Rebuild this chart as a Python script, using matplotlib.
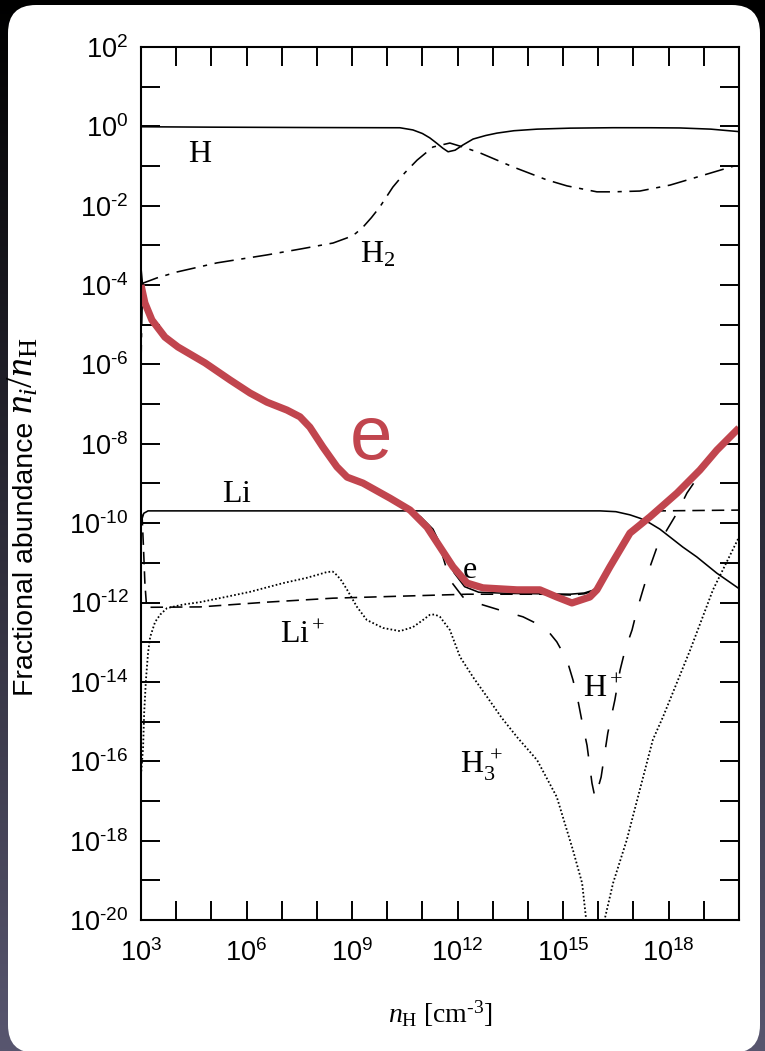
import numpy as np
import matplotlib
matplotlib.use("Agg")
import matplotlib.pyplot as plt
from matplotlib.patches import FancyBboxPatch
from matplotlib.ticker import FixedLocator, FixedFormatter

# ---------------------------------------------------------------
# Chemical abundances vs. density, log10(n_H [cm^-3]) / log10(n_i/n_H)
# ---------------------------------------------------------------
h_logn = [3.0, 5.0, 8.0, 9.79, 10.36, 10.73, 11.0, 11.21, 11.4, 11.58, 11.73,
          11.93, 12.15, 12.44, 12.8, 13.12, 13.6, 14.26, 15.2, 16.42, 17.5,
          18.32, 19.2, 19.97, 20.0]
h_logx = [-0.01, -0.02, -0.03, -0.034, -0.035, -0.09, -0.18, -0.29, -0.42,
          -0.55, -0.64, -0.60, -0.47, -0.32, -0.23, -0.17, -0.11, -0.07,
          -0.045, -0.034, -0.035, -0.04, -0.07, -0.13, -0.135]

h2_logn = [3.0, 3.02, 3.04, 3.06, 3.45, 4.02, 5.16, 6.58, 7.6, 8.46, 8.86,
           9.1, 9.31, 9.55, 9.79, 10.16, 10.5, 10.85, 11.3, 11.78, 12.15,
           12.64, 13.57, 14.54, 15.11, 15.96, 16.42, 17.18, 18.04, 18.8,
           19.97, 20.0]
h2_logx = [-6.0, -5.0, -4.3, -3.95, -3.82, -3.67, -3.44, -3.24, -3.08, -2.94,
           -2.81, -2.7, -2.54, -2.3, -2.03, -1.53, -1.17, -0.85, -0.52, -0.42,
           -0.52, -0.67, -1.02, -1.35, -1.50, -1.65, -1.65, -1.63, -1.48,
           -1.28, -0.97, -0.96]

li_logn = [3.0, 3.08, 3.2, 16.05, 16.5, 16.9, 17.2, 17.47, 17.75, 18.04,
           18.4, 18.8, 19.37, 19.97, 20.0]
li_logx = [-9.97, -9.75, -9.69, -9.69, -9.71, -9.79, -9.88, -10.0, -10.15,
           -10.35, -10.6, -10.85, -11.26, -11.63, -11.65]

lip_logn = [3.0, 3.03, 3.07, 3.11, 3.15, 3.2, 4.68, 6.58, 8.46, 10.36, 12.27,
            14.34, 15.2, 15.6, 15.96, 16.33, 16.9, 17.2, 17.47, 17.75, 20.0]
lip_logx = [-9.75, -9.8, -10.6, -11.5, -12.0, -12.12, -12.11, -11.99, -11.89,
            -11.84, -11.79, -11.79, -11.81, -11.78, -11.68, -11.10, -10.3,
            -9.95, -9.79, -9.69, -9.67]

hp_logn = [3.0, 3.11, 3.31, 3.68, 4.05, 4.82, 5.53, 6.10, 6.58, 7.15, 7.52,
           7.80, 8.17, 8.57, 8.86, 9.31, 10.08, 10.65, 11.13, 11.5, 11.78,
           12.15, 12.45, 12.72, 13.2, 13.86, 14.34, 14.6, 14.82, 15.11, 15.28,
           15.42, 15.54, 15.68, 15.82, 15.91, 16.08, 16.27, 16.47, 16.62,
           16.76, 16.96, 17.10, 17.27, 17.47, 17.67, 17.95, 18.24, 18.52,
           18.89, 19.37, 20.0]
hp_logx = [-4.00, -4.45, -4.88, -5.31, -5.56, -5.96, -6.39, -6.72, -6.95,
           -7.15, -7.32, -7.58, -8.08, -8.58, -8.84, -8.99, -9.37, -9.67,
           -10.10, -10.60, -11.43, -11.86, -11.98, -12.06, -12.19, -12.36,
           -12.57, -12.75, -12.99, -13.45, -13.95, -14.46, -15.01, -15.6,
           -16.55, -16.93, -16.40, -15.29, -14.46, -13.70, -13.20, -12.69,
           -12.19, -11.68, -11.10, -10.60, -10.17, -9.74, -9.24, -8.76,
           -8.21, -7.65]

h3p_logn = [3.0, 3.06, 3.09, 3.14, 3.2, 3.26, 3.4, 3.55, 3.74, 4.2, 4.68, 5.4,
            6.1, 7.04, 7.7, 8.1, 8.29, 8.45, 8.57, 8.7, 8.86, 9.14, 9.42,
            9.88, 10.36, 10.73, 11.0, 11.21, 11.35, 11.5, 11.78, 12.07, 12.44,
            12.84, 13.25, 13.69, 14.26, 14.82, 15.28, 15.54, 15.65, 15.72,
            16.12, 16.19, 16.42, 16.81, 17.18, 17.55, 17.84, 18.61, 19.26,
            20.0]
h3p_logx = [-16.35, -15.64, -14.78, -13.95, -13.27, -12.87, -12.49, -12.3,
            -12.14, -12.05, -11.99, -11.86, -11.73, -11.51, -11.38, -11.28,
            -11.23, -11.22, -11.31, -11.45, -11.68, -12.11, -12.44, -12.64,
            -12.72, -12.62, -12.45, -12.31, -12.30, -12.36, -12.69, -13.37,
            -13.88, -14.38, -14.9, -15.39, -15.97, -16.90, -18.24, -19.07,
            -19.95, -21.0, -21.0, -19.95, -19.07, -17.98, -16.72, -15.46,
            -14.88, -13.20, -11.68, -10.35]

# electrons: thin model curve and the highlighted one on top
et_logn = [3.0, 3.04, 3.08, 3.31, 3.68, 4.05, 4.82, 5.53, 6.10, 6.58, 7.15,
           7.52, 7.80, 8.17, 8.57, 8.86, 9.31, 10.08, 10.65, 10.95, 11.3,
           11.6, 11.9, 12.2, 12.6, 13.5, 14.5, 15.2, 15.6, 15.96, 16.33, 16.9,
           17.47, 18.24, 18.89, 19.37, 20.0]
et_logx = [-3.57, -3.95, -4.35, -4.88, -5.31, -5.56, -5.96, -6.39, -6.72,
           -6.95, -7.15, -7.32, -7.58, -8.08, -8.58, -8.84, -8.99, -9.37,
           -9.67, -9.84, -10.15, -10.7, -11.25, -11.6, -11.74, -11.77, -11.78,
           -11.79, -11.76, -11.66, -11.10, -10.25, -9.84, -9.24, -8.66, -8.16,
           -7.60]

e_logn = [3.0, 3.11, 3.31, 3.68, 4.05, 4.82, 5.53, 6.10, 6.58, 7.15, 7.52,
          7.80, 8.17, 8.57, 8.86, 9.31, 10.08, 10.65, 11.13, 11.5, 11.87,
          12.27, 12.72, 13.69, 14.34, 14.82, 15.25, 15.76, 15.96, 16.33, 16.9,
          17.47, 18.24, 18.89, 19.37, 20.0]
e_logx = [-4.00, -4.45, -4.88, -5.31, -5.56, -5.96, -6.39, -6.72, -6.95,
          -7.15, -7.32, -7.58, -8.08, -8.58, -8.84, -8.99, -9.37, -9.67,
          -10.10, -10.60, -11.10, -11.51, -11.63, -11.68, -11.68, -11.86,
          -12.01, -11.86, -11.68, -11.10, -10.25, -9.84, -9.24, -8.66, -8.16,
          -7.60]

x_decades = list(range(3, 21))
x_labelled = [3, 6, 9, 12, 15, 18]
y_decades = list(range(2, -21, -1))
y_labelled = [2, 0, -2, -4, -6, -8, -10, -12, -14, -16, -18, -20]

# species labels: (text, log n, log abundance)
species_labels = [
    (r"$\mathrm{H}$", 4.34, -0.90),
    (r"$\mathrm{H_2}$", 9.23, -3.44),
    (r"$\mathrm{Li}$", 5.30, -9.47),
    (r"$\mathrm{Li^+}$", 6.95, -13.02),
    (r"$\mathrm{e}$", 12.12, -11.38),
    (r"$\mathrm{H^+}$", 15.56, -14.38),
    (r"$\mathrm{H_3^{\,+}}$", 12.07, -16.30),
]
highlight_label = ("e", 8.94, -8.38)

RED = "#c1454e"
HYPHEN = "\u2010"

plt.rcParams["mathtext.fontset"] = "custom"
plt.rcParams["mathtext.rm"] = "Liberation Serif"
plt.rcParams["mathtext.it"] = "Liberation Serif:italic"
plt.rcParams["mathtext.sf"] = "Liberation Sans"
plt.rcParams["mathtext.bf"] = "Liberation Serif:bold"
plt.rcParams["font.family"] = ["Liberation Sans", "DejaVu Sans"]
plt.rcParams["lines.scale_dashes"] = False

W, H = 765, 1051
fig = plt.figure(figsize=(W / 100, H / 100), dpi=100)

# backdrop: dark gradient with a white rounded card
bg = fig.add_axes([0, 0, 1, 1], zorder=-10)
top = np.array([0.0, 0.0, 0.0])
bot = np.array([0x58, 0x56, 0x6f]) / 255.0
t = np.linspace(0, 1, 256)[:, None]
grad = (top + (bot - top) * t)[:, None, :].repeat(2, axis=1)
bg.imshow(grad, aspect="auto", extent=(0, W, H, 0), interpolation="bilinear")
bg.add_patch(FancyBboxPatch((8, 5), 752, 1048,
                            boxstyle="round,pad=0,rounding_size=28",
                            fc="white", ec="none"))
bg.set_xlim(0, W)
bg.set_ylim(H, 0)
bg.axis("off")

L, R, T, B = 141, 739, 47, 920
ax = fig.add_axes([L / W, 1 - B / H, (R - L) / W, (B - T) / H])
ax.set_xscale("log")
ax.set_yscale("log")
ax.set_xlim(1e3, 1e20)
ax.set_ylim(1e-20, 1e2)


def pw(a):
    return 10.0 ** np.asarray(a, dtype=float)


thin = 1.15
ax.plot(pw(h_logn), pw(h_logx), color="black", lw=thin)
ax.plot(pw(li_logn), pw(li_logx), color="black", lw=thin)
ax.plot(pw(h2_logn), pw(h2_logx), color="black", lw=thin,
        dashes=(14, 5.5, 3, 5.5))
ax.plot(pw(lip_logn), pw(lip_logx), color="black", lw=thin, dashes=(9, 5))
ax.plot(pw(hp_logn), pw(hp_logx), color="black", lw=thin, dashes=(13, 14))
ax.plot(pw(h3p_logn), pw(h3p_logx), color="black", lw=1.3, dashes=(1.2, 1.6))
ax.plot(pw(et_logn), pw(et_logx), color="black", lw=thin)
ax.plot(pw(e_logn), pw(e_logx), color=RED, lw=5.2, solid_capstyle="butt",
        solid_joinstyle="round")

for txt, lx, ly in species_labels:
    ax.text(10 ** lx, 10 ** ly, txt, fontsize=23, ha="left", va="baseline")
ax.text(10 ** highlight_label[1], 10 ** highlight_label[2], highlight_label[0],
        fontsize=55, color=RED, ha="left", va="baseline",
        family="Liberation Sans")


def sup_label(k):
    exp = (HYPHEN + "%d" % -k) if k < 0 else "%d" % k
    return "$\\mathsf{10^{%s}}$" % exp


ax.xaxis.set_major_locator(FixedLocator([10.0 ** k for k in x_decades]))
ax.xaxis.set_major_formatter(FixedFormatter(
    [sup_label(k) if k in x_labelled else "" for k in x_decades]))
ax.yaxis.set_major_locator(FixedLocator([10.0 ** k for k in y_decades]))
ax.yaxis.set_major_formatter(FixedFormatter(
    [sup_label(k) if k in y_labelled else "" for k in y_decades]))
ax.minorticks_off()
ax.tick_params(which="major", direction="in", top=True, right=True,
               length=13.5, width=1.4, labelsize=19.5)
ax.tick_params(axis="x", pad=14)
ax.tick_params(axis="y", pad=9)
for s in ax.spines.values():
    s.set_linewidth(1.5)

fig.text(440 / W, 1 - 1014 / H,
         "$\\mathit{n}_{\\mathrm{H}}\\ \\mathrm{[cm^{" + HYPHEN + "3}]}$",
         fontsize=20, ha="center", va="center")

# y label: sans words followed by a larger serif ratio, running upward
ylab_x, ylab_bottom = 33, 696
words = fig.text(ylab_x / W, 1 - ylab_bottom / H, "Fractional abundance",
                 fontsize=20.5, rotation=90, rotation_mode="anchor",
                 ha="left", va="baseline")
fig.canvas.draw()
ext = words.get_window_extent(fig.canvas.get_renderer())
fig.text(ylab_x / W, (ext.y1 + 8) / H,
         r"$\mathit{n_i}/\mathit{n}_{\mathrm{H}}$",
         fontsize=27, rotation=90, rotation_mode="anchor",
         ha="left", va="baseline")

fig.savefig("out.png", dpi=100)
